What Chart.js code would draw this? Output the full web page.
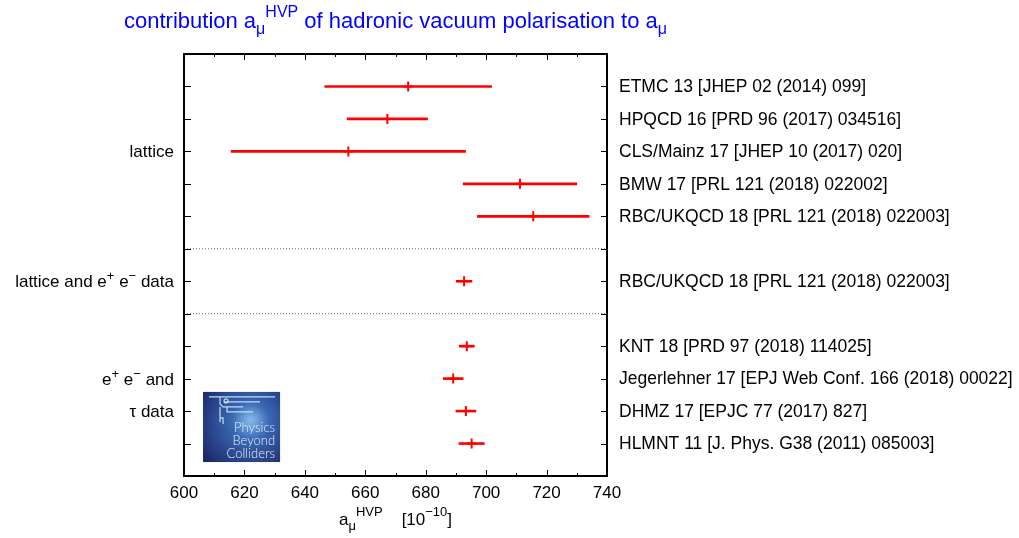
<!DOCTYPE html>
<html><head><meta charset="utf-8">
<script src="https://cdn.jsdelivr.net/npm/chart.js@4"></script>
<style>html,body{margin:0;padding:0;background:#fff;}#wrap{width:1019px;height:538px;}</style>
</head><body><div id="wrap"><canvas id="c" width="1019" height="538"></canvas></div>
<script>
// ---- data ----
const rowPositions = [1, 2, 3, 4, 5, 7, 9, 10, 11, 12];
const references = [
  'ETMC 13 [JHEP 02 (2014) 099]',
  'HPQCD 16 [PRD 96 (2017) 034516]',
  'CLS/Mainz 17 [JHEP 10 (2017) 020]',
  'BMW 17 [PRL 121 (2018) 022002]',
  'RBC/UKQCD 18 [PRL 121 (2018) 022003]',
  'RBC/UKQCD 18 [PRL 121 (2018) 022003]',
  'KNT 18 [PRD 97 (2018) 114025]',
  'Jegerlehner 17 [EPJ Web Conf. 166 (2018) 00022]',
  'DHMZ 17 [EPJC 77 (2017) 827]',
  'HLMNT 11 [J. Phys. G38 (2011) 085003]'
];
const centralValues = [674.2, 667.3, 654.4, 711.2, 715.6, 692.7, 693.6, 689.1, 693.3, 695.2];
const errors        = [27.6, 13.3, 38.8, 18.8, 18.5, 2.6, 2.5, 3.3, 3.3, 4.2];
const groupRows   = [3, 7, 10, 11];
// group labels as rich-text pieces: [text, isSuperscript]
const groupLabels = [
  [['lattice', 0]],
  [['lattice and e', 0], ['+', 1], [' e', 0], ['\u2212', 1], [' data', 0]],
  [['e', 0], ['+', 1], [' e', 0], ['\u2212', 1], [' and', 0]],
  [['\u03C4 data', 0]]
];
const separatorRows = [6, 8];
const xTickValues = [600, 620, 640, 660, 680, 700, 720, 740];
const xMinorTickValues = [610, 630, 650, 670, 690, 710, 730];

const FONT = "'Liberation Sans', Arial, Helvetica, sans-serif";

const barData = rowPositions.map((r, i) => ({ y: r, x: [centralValues[i] - errors[i], centralValues[i] + errors[i]] }));
const pointData = rowPositions.map((r, i) => ({ x: centralValues[i], y: r }));
const sepDatasets = separatorRows.map(r => ({
  type: 'line', data: [{ x: 600, y: r }, { x: 740, y: r }],
  borderColor: '#666', borderWidth: 1, borderDash: [1, 2], pointRadius: 0, xAxisID: 'x', yAxisID: 'y', order: 3
}));

function drawRich(ctx, segs, x0, baseline, color, align) {
  let total = 0;
  segs.forEach(s => { ctx.font = s.s + 'px ' + FONT; s.w = ctx.measureText(s.t).width; total += s.w + (s.gap || 0); });
  let x = align === 'right' ? x0 - total : x0 - total / 2;
  ctx.fillStyle = color; ctx.textBaseline = 'alphabetic'; ctx.textAlign = 'left';
  segs.forEach(s => { x += (s.gap || 0); ctx.font = s.s + 'px ' + FONT; ctx.fillText(s.t, x, baseline + s.dy); x += s.w; });
}

const decor = {
  id: 'decor',
  afterDatasetsDraw(chart) {
    const ctx = chart.ctx, a = chart.chartArea, xs = chart.scales.x, ys = chart.scales.y;
    ctx.save();
    // logo
    const lx0 = xs.getPixelForValue(606.3), lx1 = xs.getPixelForValue(631.8);
    const ly0 = ys.getPixelForValue(10.41), ly1 = ys.getPixelForValue(12.57);
    const w = lx1 - lx0, h = ly1 - ly0;
    const g = ctx.createRadialGradient(lx0 + 0.62 * w, ly0 + 0.4 * h, 2, lx0 + 0.6 * w, ly0 + 0.45 * h, w * 0.75);
    g.addColorStop(0, '#7fb4e6'); g.addColorStop(0.3, '#3a68b4'); g.addColorStop(1, '#1b2565');
    ctx.fillStyle = g; ctx.fillRect(lx0, ly0, w, h);
    ctx.strokeStyle = '#bfe0f5'; ctx.lineWidth = 1.2;
    ctx.beginPath();
    ctx.moveTo(lx0 + 6, ly0 + 5); ctx.lineTo(lx1 - 5, ly0 + 5);
    ctx.moveTo(lx0 + 17, ly0 + 5); ctx.lineTo(lx0 + 17, ly0 + 12); ctx.lineTo(lx0 + 20, ly0 + 15); ctx.lineTo(lx0 + 40, ly0 + 15);
    ctx.moveTo(lx0 + 21, ly0 + 10); ctx.lineTo(lx0 + 57, ly0 + 10);
    ctx.moveTo(lx0 + 24, ly0 + 15); ctx.lineTo(lx0 + 24, ly0 + 20); ctx.lineTo(lx0 + 50, ly0 + 20);
    ctx.moveTo(lx0 + 17, ly0 + 15); ctx.lineTo(lx0 + 17, ly0 + 30);
    ctx.moveTo(lx0 + 17, ly0 + 26); ctx.lineTo(lx0 + 20, ly0 + 26); ctx.lineTo(lx0 + 20, ly0 + 32);
    ctx.stroke();
    ctx.beginPath(); ctx.arc(lx0 + 23, ly0 + 9, 2, 0, Math.PI * 2); ctx.stroke();
    ctx.fillStyle = '#e6eefc'; ctx.textAlign = 'right'; ctx.textBaseline = 'alphabetic';
    ctx.font = "300 13px Lato, 'Open Sans', sans-serif";
    ctx.fillText('Physics', lx1 - 5, ly0 + 40);
    ctx.fillText('Beyond', lx1 - 5, ly0 + 53);
    ctx.fillText('Colliders', lx1 - 5, ly0 + 66);

    // frame
    ctx.strokeStyle = '#000'; ctx.lineWidth = 2;
    ctx.strokeRect(a.left, a.top, a.right - a.left, a.bottom - a.top);
    // inward ticks
    ctx.lineWidth = 1;
    ctx.beginPath();
    xTickValues.forEach(v => { const px = Math.round(xs.getPixelForValue(v)) + 0.5;
      ctx.moveTo(px, a.bottom); ctx.lineTo(px, a.bottom - 6); ctx.moveTo(px, a.top); ctx.lineTo(px, a.top + 6); });
    xMinorTickValues.forEach(v => { const px = Math.round(xs.getPixelForValue(v)) + 0.5;
      ctx.moveTo(px, a.bottom); ctx.lineTo(px, a.bottom - 3); ctx.moveTo(px, a.top); ctx.lineTo(px, a.top + 3); });
    rowPositions.concat(separatorRows).forEach(r => { const py = Math.round(ys.getPixelForValue(r)) + 0.5;
      ctx.moveTo(a.left, py); ctx.lineTo(a.left + 7, py); ctx.moveTo(a.right, py); ctx.lineTo(a.right - 6, py); });
    ctx.stroke();

    // group labels on the left (rich text with superscripts), placed by the y scale
    groupRows.forEach((r, i) => {
      const py = ys.getPixelForValue(r);
      drawRich(ctx, groupLabels[i].map(p => ({ t: p[0], s: p[1] ? 13 : 17, dy: p[1] ? -7 : 0 })),
        a.left - 10, py + 6, '#000', 'right');
    });

    // title
    const cx = (a.left + a.right) / 2;
    drawRich(ctx, [
      { t: 'contribution a', s: 22, dy: 0 }, { t: '\u03BC', s: 16, dy: 6 }, { t: 'HVP', s: 16, dy: -11 },
      { t: ' of hadronic vacuum polarisation to a', s: 22, dy: 0 }, { t: '\u03BC', s: 16, dy: 6 }
    ], cx, 28, '#0000ff');
    // x-axis label
    drawRich(ctx, [
      { t: 'a', s: 17, dy: 0 }, { t: '\u03BC', s: 13, dy: 5 }, { t: 'HVP', s: 13, dy: -9 },
      { t: '[10', s: 17, dy: 0, gap: 19 }, { t: '\u221210', s: 13, dy: -9 }, { t: ']', s: 17, dy: 0 }
    ], cx, 525, '#000');
    ctx.restore();
  }
};

new Chart(document.getElementById('c'), {
  data: {
    datasets: [
      { type: 'bar', indexAxis: 'y', data: barData, backgroundColor: '#ff0000', borderWidth: 0,
        barThickness: 2, xAxisID: 'x', yAxisID: 'y', order: 2 },
      { type: 'scatter', data: pointData, pointStyle: 'cross', radius: 5, borderColor: '#ff0000',
        borderWidth: 2, xAxisID: 'x', yAxisID: 'y', order: 1 },
      ...sepDatasets
    ]
  },
  options: {
    responsive: false, animation: false, devicePixelRatio: 1,
    layout: { padding: { top: 54, left: 0, right: 0, bottom: 0 } },
    plugins: { legend: { display: false }, tooltip: { enabled: false }, title: { display: false } },
    scales: {
      x: { type: 'linear', position: 'bottom', min: 600, max: 740, offset: false,
        afterBuildTicks: s => { s.ticks = xTickValues.map(v => ({ value: v })); },
        afterFit: s => { s.height = 62; },
        grid: { display: false, drawTicks: false }, border: { display: false },
        ticks: { color: '#000', font: { family: FONT, size: 17 }, padding: 7, maxRotation: 0, autoSkip: false } },
      y: { type: 'linear', position: 'left', min: 0, max: 13, reverse: true, offset: false,
        afterBuildTicks: s => { s.ticks = groupRows.map(v => ({ value: v })); },
        afterFit: s => { s.width = 184; },
        grid: { display: false, drawTicks: false }, border: { display: false },
        ticks: { display: false } },
      y2: { type: 'linear', position: 'right', min: 0, max: 13, reverse: true, offset: false,
        afterBuildTicks: s => { s.ticks = rowPositions.map(v => ({ value: v })); },
        afterFit: s => { s.width = 412; },
        grid: { display: false, drawTicks: false }, border: { display: false },
        ticks: { color: '#000', font: { family: FONT, size: 17.5 }, padding: 12, autoSkip: false, labelOffset: 1,
          callback: v => references[rowPositions.indexOf(v)] } }
    }
  },
  plugins: [decor]
});
</script></body></html>
